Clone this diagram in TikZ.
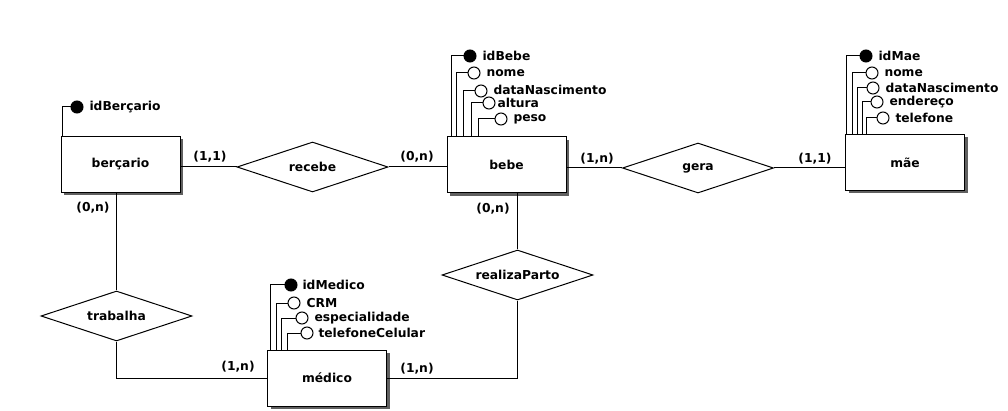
\documentclass[tikz,border=0pt]{standalone}
\usepackage{fontspec}
\setmainfont{DejaVu Sans}
\usetikzlibrary{shapes.geometric,shadows}
\begin{document}
\begin{tikzpicture}[x=1pt,y=-1pt,
  every node/.style={font=\bfseries\fontsize{12.3}{14}\selectfont},
  line width=1pt,
  entity/.style={draw,fill=white,minimum width=119pt,minimum height=56pt,inner sep=0pt,
    drop shadow={shadow xshift=3pt,shadow yshift=-3pt,fill=gray!75!black,opacity=1}},
  rel/.style={draw,diamond,fill=white,minimum width=151pt,minimum height=50pt,inner sep=0pt,aspect=3},
  attr/.style={draw,circle,fill=white,minimum size=12pt,inner sep=0pt,line width=1pt},
  keyattr/.style={attr,fill=black},
  lbl/.style={anchor=west,inner sep=0pt},
  card/.style={inner sep=0pt}]
\useasboundingbox (0,0) rectangle (1008,411);

% entities
\node[entity] (berc) at (120.5,164.5) {berçario};
\node[entity] (bebe) at (506.5,165) {bebe};
\node[entity] (mae) at (905,162.5) {mãe};
\node[entity] (med) at (327,378) {médico};

% relationships
\node[rel] (recebe) at (312.5,167) {recebe};
\node[rel] (gera) at (698,168) {gera};
\node[rel] (rp) at (517.5,275) {realizaParto};
\node[rel] (trab) at (116.5,316) {trabalha};

% connectors
\draw (recebe.west) -- (recebe.west -| berc.east);
\draw (recebe.east) -- (recebe.east -| bebe.west);
\draw (gera.west) -- (gera.west -| bebe.east);
\draw (gera.east) -- (gera.east -| mae.west);
\draw (rp.north) -- (rp.north |- bebe.south);
\draw (rp.south) |- (med.east);
\draw (trab.north) -- (trab.north |- berc.south);
\draw (trab.south) |- (med.west);

% cardinalities
\node[card] (c1) at (210,157) {(1,1)};
\node[card] (c2) at (417,157) {(0,n)};
\node[card] (c3) at (597,158.5) {(1,n)};
\node[card] (c4) at (815,158.5) {(1,1)};
\node[card] (c5) at (493,209) {(0,n)};
\node[card] (c6) at (417,369) {(1,n)};
\node[card] (c7) at (93,208) {(0,n)};
\node[card] (c8) at (238,367) {(1,n)};

% attributes of berçario
\node[keyattr] (bk) at (77,107) {};
\node[lbl] (bkl) at (89,107) {idBerçario};
\draw (bk.west) -| ([xshift=2pt]berc.north west);

% attributes of bebe
\node[keyattr] (e1) at (470,56) {};
\node[attr] (e2) at (474,73) {};
\node[attr] (e3) at (481,91) {};
\node[attr] (e4) at (489,103) {};
\node[attr] (e5) at (501,119) {};
\node[lbl] (e1l) at (482,56) {idBebe};
\node[lbl] (e2l) at (486,73) {nome};
\node[lbl] (e3l) at (493,90) {dataNascimento};
\node[lbl] (e4l) at (497,103) {altura};
\node[lbl] (e5l) at (513,119) {peso};
\draw (e1.west) -| ([xshift=5pt]bebe.north west);
\draw (e2.west) -| ([xshift=10pt]bebe.north west);
\draw (e3.west) -| ([xshift=17pt]bebe.north west);
\draw (e4.west) -| ([xshift=25pt]bebe.north west);
\draw (e5.west) -| ([xshift=32pt]bebe.north west);

% attributes of mãe
\node[keyattr] (m1) at (866,56) {};
\node[attr] (m2) at (872,73) {};
\node[attr] (m3) at (873,88) {};
\node[attr] (m4) at (877,102) {};
\node[attr] (m5) at (883,118) {};
\node[lbl] (m1l) at (878,56) {idMae};
\node[lbl] (m2l) at (884,73) {nome};
\node[lbl] (m3l) at (885,88) {dataNascimento};
\node[lbl] (m4l) at (889,102) {endereço};
\node[lbl] (m5l) at (895,118) {telefone};
\draw (m1.west) -| ([xshift=1pt]mae.north west);
\draw (m2.west) -| ([xshift=7pt]mae.north west);
\draw (m3.west) -| ([xshift=12pt]mae.north west);
\draw (m4.west) -| ([xshift=17pt]mae.north west);
\draw (m5.west) -| ([xshift=21pt]mae.north west);

% attributes of médico
\node[keyattr] (d1) at (291,285) {};
\node[attr] (d2) at (294,303) {};
\node[attr] (d3) at (302,318) {};
\node[attr] (d4) at (307,333) {};
\node[lbl] (d1l) at (302,285) {idMedico};
\node[lbl] (d2l) at (306,303) {CRM};
\node[lbl] (d3l) at (314,318) {especialidade};
\node[lbl] (d4l) at (318,333) {telefoneCelular};
\draw (d1.west) -| ([xshift=3pt]med.north west);
\draw (d2.west) -| ([xshift=9pt]med.north west);
\draw (d3.west) -| ([xshift=14pt]med.north west);
\draw (d4.west) -| ([xshift=20pt]med.north west);
\end{tikzpicture}
\end{document}
